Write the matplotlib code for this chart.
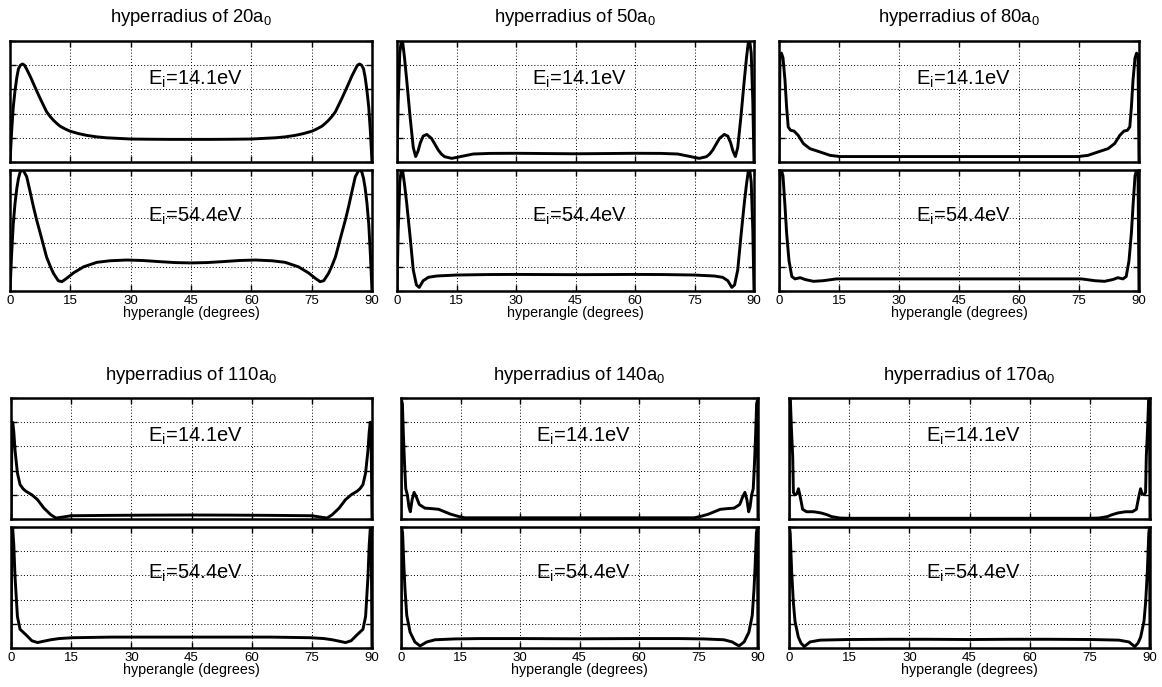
import matplotlib
matplotlib.use("Agg")
import matplotlib.pyplot as plt

plt.rcParams["font.family"] = ["Liberation Sans", "DejaVu Sans"]
plt.rcParams["mathtext.fontset"] = "custom"
plt.rcParams["mathtext.rm"] = "Liberation Sans"
plt.rcParams["mathtext.it"] = "Liberation Sans"
plt.rcParams["mathtext.default"] = "regular"

# ---------------------------------------------------------------- data
radii = [20, 50, 80, 110, 140, 170]
energies = ["14.1", "54.4"]
xticks = [0, 15, 30, 45, 60, 75, 90]

# hyperradius 20 a0
r20_low_x = [0, 0.4, 0.8, 1.25, 1.7, 2.1, 2.6, 3.1, 3.6, 4.1, 5, 5.8, 6.6, 7.5, 8.3, 9.1, 10, 10.8, 11.6, 12.4,
             13.6, 14.9, 17, 19.1, 21.5, 24, 27, 30, 35, 40, 45,
             50, 55, 60, 63, 66, 68.5, 70.9, 73, 75.1, 76.4, 77.6, 78.4, 79.2, 80, 80.9, 81.7, 82.5, 83.4, 84.2,
             85, 85.9, 86.4, 86.9, 87.4, 87.9, 88.3, 88.75, 89.2, 89.6, 90]
r20_low_y = [0, 0.25, 0.45, 0.59, 0.70, 0.77, 0.80, 0.81, 0.80, 0.77, 0.71, 0.65, 0.59, 0.525, 0.47, 0.415, 0.375,
             0.345, 0.32, 0.297, 0.275, 0.255, 0.235, 0.22, 0.208, 0.20, 0.195, 0.19, 0.188, 0.187, 0.187,
             0.187, 0.188, 0.19, 0.195, 0.20, 0.208, 0.22, 0.235, 0.255, 0.275, 0.297, 0.32, 0.345, 0.375, 0.415,
             0.47, 0.525, 0.59, 0.65, 0.71, 0.77, 0.80, 0.81, 0.80, 0.77, 0.70, 0.59, 0.45, 0.25, 0]
r20_high_x = [0, 0.4, 0.8, 1.25, 1.7, 2.1, 2.5, 2.9, 3.4, 4.15, 5, 5.8, 6.6, 7.5, 8.3, 9.1, 10, 10.8, 12, 12.9,
              14.1, 15.8, 18.3, 21.6, 24.9, 29, 33, 37, 41, 45,
              49, 53, 57, 61, 65.1, 68.4, 71.7, 74.2, 75.9, 77.1, 78, 79.2, 80, 80.9, 81.7, 82.5, 83.4, 84.2, 85,
              85.85, 86.6, 87.1, 87.5, 87.9, 88.3, 88.75, 89.2, 89.6, 90]
r20_high_y = [0, 0.3, 0.55, 0.725, 0.85, 0.93, 0.98, 1.0, 0.99, 0.945, 0.82, 0.70, 0.59, 0.48, 0.38, 0.28, 0.205,
              0.146, 0.085, 0.077, 0.105, 0.15, 0.20, 0.237, 0.25, 0.256, 0.252, 0.243, 0.235, 0.232,
              0.235, 0.243, 0.252, 0.256, 0.25, 0.237, 0.20, 0.15, 0.105, 0.077, 0.085, 0.146, 0.205, 0.28, 0.38,
              0.48, 0.59, 0.70, 0.82, 0.945, 0.99, 1.0, 0.98, 0.93, 0.85, 0.725, 0.55, 0.3, 0]

# hyperradius 50 a0
r50_low_x = [0, 0.3, 0.7, 1.0, 1.4, 1.9, 2.45, 3.3, 4.1, 4.7, 5.3, 5.9, 6.6, 7.5, 8.7, 9.5, 10.4, 11.2, 12.0, 13.8,
             15.9, 19.2, 23.4, 30, 37, 45,
             53, 60, 66.6, 70.8, 74.1, 76.2, 78, 78.8, 79.6, 80.5, 81.3, 82.5, 83.4, 84.1, 84.7, 85.3, 85.9, 86.7,
             87.55, 88.1, 88.6, 89, 89.3, 89.7, 90]
r50_low_y = [0, 0.5, 0.9, 0.98, 1.0, 0.86, 0.676, 0.373, 0.12, 0.045, 0.09, 0.16, 0.214, 0.228, 0.195, 0.15, 0.099,
             0.065, 0.044, 0.03, 0.044, 0.066, 0.071, 0.072, 0.07, 0.068,
             0.07, 0.072, 0.071, 0.066, 0.044, 0.03, 0.044, 0.065, 0.099, 0.15, 0.195, 0.228, 0.214, 0.16, 0.09,
             0.045, 0.12, 0.373, 0.676, 0.86, 1.0, 0.98, 0.9, 0.5, 0]
r50_high_x = [0, 0.3, 0.7, 1.0, 1.4, 1.9, 2.45, 3.3, 4.1, 4.9, 5.6, 6.6, 7.9, 10, 15, 23, 30, 37, 45,
              53, 60, 67, 75, 80, 82.1, 83.4, 84.4, 85.1, 85.9, 86.7, 87.55, 88.1, 88.6, 89, 89.3, 89.7, 90]
r50_high_y = [0, 0.5, 0.9, 0.98, 1.0, 0.88, 0.725, 0.45, 0.174, 0.05, 0.03, 0.085, 0.113, 0.124, 0.132, 0.136,
              0.137, 0.136, 0.135,
              0.136, 0.137, 0.136, 0.132, 0.124, 0.113, 0.085, 0.03, 0.05, 0.174, 0.45, 0.725, 0.88, 1.0, 0.98,
              0.9, 0.5, 0]

# hyperradius 80 a0
r80_low_x = [0, 0.25, 0.6, 1.0, 1.5, 1.9, 2.3, 2.9, 3.75, 4.8, 6.1, 7.75, 10.25, 12.75, 15.25, 18.6, 25, 35, 45,
             55, 65, 71.4, 74.75, 77.25, 79.75, 82.25, 83.9, 85.2, 86.25, 87.1, 87.7, 88.1, 88.5, 89, 89.4, 89.75, 90]
r80_low_y = [0, 0.88, 0.9, 0.86, 0.675, 0.455, 0.29, 0.262, 0.256, 0.22, 0.152, 0.11, 0.083, 0.055, 0.045, 0.045,
             0.045, 0.045, 0.045,
             0.045, 0.045, 0.045, 0.045, 0.055, 0.083, 0.11, 0.152, 0.22, 0.256, 0.262, 0.29, 0.455, 0.675, 0.86,
             0.9, 0.88, 0]
r80_high_x = [0, 0.25, 0.6, 1.0, 1.5, 1.9, 2.5, 3.2, 4.0, 5.3, 6.5, 8.6, 11, 14.4, 20, 30, 45,
              60, 70, 75.6, 79, 81.4, 83.5, 84.7, 86, 86.8, 87.5, 88.1, 88.5, 89, 89.4, 89.75, 90]
r80_high_y = [0, 1.0, 1.0, 0.95, 0.7, 0.48, 0.25, 0.12, 0.1, 0.11, 0.095, 0.08, 0.085, 0.1, 0.1, 0.1, 0.1,
              0.1, 0.1, 0.1, 0.085, 0.08, 0.095, 0.11, 0.1, 0.12, 0.25, 0.48, 0.7, 0.95, 1.0, 1.0, 0]

# hyperradius 110 a0
r110_low_x = [0, 0.2, 0.42, 0.7, 1.0, 1.6, 2.25, 3.0, 3.7, 5.2, 6.6, 8.2, 9.9, 11.2, 12.9, 15, 25, 35, 45,
              55, 65, 75, 77.1, 78.8, 80.1, 81.8, 83.4, 84.8, 86.3, 87, 87.75, 88.4, 89, 89.3, 89.58, 89.8, 90]
r110_low_y = [0, 0.6, 0.8, 0.72, 0.57, 0.38, 0.285, 0.25, 0.23, 0.2, 0.16, 0.09, 0.036, 0.008, 0.016, 0.027, 0.03,
              0.032, 0.033,
              0.032, 0.03, 0.027, 0.016, 0.008, 0.036, 0.09, 0.16, 0.2, 0.23, 0.25, 0.285, 0.38, 0.57, 0.72, 0.8,
              0.6, 0]
r110_high_x = [0, 0.2, 0.4, 0.7, 1.0, 1.6, 2.25, 3.7, 5.2, 6.6, 8.0, 9.9, 12, 15.4, 25, 35, 45,
               55, 65, 74.6, 78, 80.1, 82, 83.4, 84.8, 86.3, 87.75, 88.4, 89, 89.3, 89.6, 89.8, 90]
r110_high_y = [0, 0.9, 1.0, 0.85, 0.59, 0.26, 0.155, 0.11, 0.06, 0.045, 0.055, 0.068, 0.078, 0.085, 0.09, 0.09, 0.09,
               0.09, 0.09, 0.085, 0.078, 0.068, 0.055, 0.045, 0.06, 0.11, 0.155, 0.26, 0.59, 0.85, 1.0, 0.9, 0]

# hyperradius 140 a0
r140_low_x = [0, 0.15, 0.35, 0.6, 0.9, 1.2, 1.6, 2.0, 2.35, 2.8, 3.3, 3.9, 4.6, 6, 8, 9.5, 11, 12.5, 14.4, 16.1,
              25, 35, 45,
              55, 65, 73.9, 75.6, 77.5, 79, 80.5, 82, 84, 85.4, 86.1, 86.7, 87.2, 87.65, 88, 88.4, 88.8, 89.1, 89.4,
              89.65, 89.85, 90]
r140_low_y = [0, 0.98, 0.95, 0.7, 0.45, 0.25, 0.2, 0.1, 0.06, 0.16, 0.22, 0.18, 0.12, 0.09, 0.085, 0.08, 0.06, 0.04,
              0.022, 0.01, 0.01, 0.01, 0.01,
              0.01, 0.01, 0.01, 0.022, 0.04, 0.06, 0.08, 0.085, 0.09, 0.12, 0.18, 0.22, 0.16, 0.06, 0.1, 0.2, 0.25,
              0.45, 0.7, 0.95, 0.98, 0]
r140_high_x = [0, 0.15, 0.4, 0.7, 1.0, 1.45, 2.3, 3.5, 4.8, 6.5, 8.6, 13.6, 20, 30, 45,
               60, 70, 76.4, 81.4, 83.5, 85.2, 86.5, 87.7, 88.55, 89, 89.3, 89.6, 89.85, 90]
r140_high_y = [0, 1.0, 0.95, 0.7, 0.49, 0.27, 0.13, 0.05, 0.017, 0.05, 0.068, 0.075, 0.078, 0.078, 0.076,
               0.078, 0.078, 0.075, 0.068, 0.05, 0.017, 0.05, 0.13, 0.27, 0.49, 0.7, 0.95, 1.0, 0]

# hyperradius 170 a0
r170_low_x = [0, 0.15, 0.35, 0.6, 0.92, 1.1, 1.5, 2.0, 2.35, 2.7, 3.0, 3.4, 4.4, 6.1, 8.0, 9.5, 10.6, 12.7, 15,
              25, 35, 45,
              55, 65, 75, 77.3, 79.4, 80.5, 82, 83.9, 85.6, 86.6, 87, 87.3, 87.65, 88, 88.5, 88.9, 89.08, 89.4,
              89.65, 89.85, 90]
r170_low_y = [0, 1.0, 0.98, 0.75, 0.52, 0.22, 0.2, 0.21, 0.25, 0.2, 0.15, 0.08, 0.06, 0.06, 0.05, 0.035, 0.02,
              0.008, 0.006, 0.006, 0.006, 0.006,
              0.006, 0.006, 0.006, 0.008, 0.02, 0.035, 0.05, 0.06, 0.06, 0.08, 0.15, 0.2, 0.25, 0.21, 0.2, 0.22,
              0.52, 0.75, 0.98, 1.0, 0]
r170_high_x = [0, 0.1, 0.3, 0.67, 1.08, 1.5, 2.33, 3.0, 3.8, 5.25, 7.75, 14.4, 25, 35, 45,
               55, 65, 75.6, 82.25, 84.75, 86.2, 87, 87.67, 88.5, 88.92, 89.33, 89.7, 89.9, 90]
r170_high_y = [0, 1.0, 0.95, 0.63, 0.38, 0.22, 0.09, 0.04, 0.012, 0.05, 0.065, 0.07, 0.072, 0.072, 0.07,
               0.072, 0.072, 0.07, 0.065, 0.05, 0.012, 0.04, 0.09, 0.22, 0.38, 0.63, 0.95, 1.0, 0]

curves = {
    20: ((r20_low_x, r20_low_y), (r20_high_x, r20_high_y)),
    50: ((r50_low_x, r50_low_y), (r50_high_x, r50_high_y)),
    80: ((r80_low_x, r80_low_y), (r80_high_x, r80_high_y)),
    110: ((r110_low_x, r110_low_y), (r110_high_x, r110_high_y)),
    140: ((r140_low_x, r140_low_y), (r140_high_x, r140_high_y)),
    170: ((r170_low_x, r170_low_y), (r170_high_x, r170_high_y)),
}

# ---------------------------------------------------------------- layout (pixels)
W, H = 1162, 687
col_spans = [[(10, 372), (397, 754), (779, 1139)],
             [(11, 372), (401, 758), (789, 1150)]]
row_spans = [((41, 162), (170, 291)),
             ((398, 519), (527, 648))]
title_base = [22, 380]


def px_rect(x0, x1, y0, y1):
    return [x0 / W, 1 - y1 / H, (x1 - x0) / W, (y1 - y0) / H]


fig = plt.figure(figsize=(W / 100, H / 100), dpi=100)
fig.patch.set_facecolor("white")

for idx, r in enumerate(radii):
    row, col = divmod(idx, 3)
    x0, x1 = col_spans[row][col]
    for k, (y0, y1) in enumerate(row_spans[row]):
        ax = fig.add_axes(px_rect(x0, x1, y0, y1))
        xs, ys = curves[r][k]
        ax.plot(xs, ys, color="black", lw=2.1, solid_joinstyle="round", clip_on=True)
        ax.set_xlim(0, 90)
        ax.set_ylim(0, 1)
        ax.set_xticks(xticks)
        ax.set_yticks([0, 0.2, 0.4, 0.6, 0.8, 1.0])
        ax.set_yticklabels([])
        ax.grid(True, color="black", linestyle=(0, (1, 2.2)), linewidth=0.7)
        ax.tick_params(direction="in", length=4, width=1.0, top=True, right=True,
                       labelsize=9.5, pad=3)
        for s in ax.spines.values():
            s.set_linewidth(1.8)
        label = r"E$_\mathregular{i}$=%seV" % energies[k]
        if k == 0:
            ax.set_xticklabels([])
            ax.text(46, 0.685, label, fontsize=14.5, ha="center", va="center")
        else:
            ax.text(46, 0.615, label, fontsize=14.5, ha="center", va="center")
            ax.set_xlabel("hyperangle (degrees)", fontsize=10.3, labelpad=-1)
    fig.text((x0 + x1) / 2 / W, 1 - title_base[row] / H,
             r"hyperradius of %da$_\mathregular{0}$" % r,
             fontsize=13.3, ha="center", va="baseline")

fig.savefig("out.png", dpi=100, facecolor="white")
